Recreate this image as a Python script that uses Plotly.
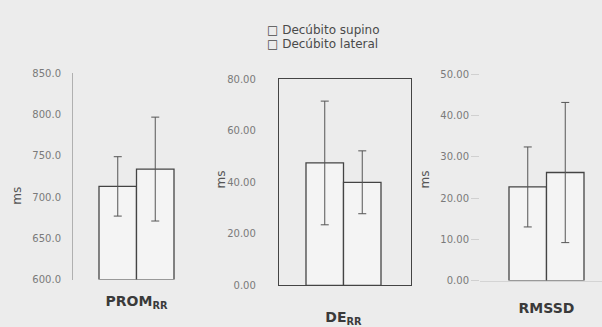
import plotly.graph_objects as go

# Series and categories
series_names = ["Decúbito supino", "Decúbito lateral"]
categories = ["PROM<sub>RR</sub>", "DE<sub>RR</sub>", "RMSSD"]

# Means and standard deviations (ms) for each panel: [supino, lateral]
prom_mean = [713.0, 734.0]
prom_sd = [36.0, 63.0]
de_mean = [47.5, 40.0]
de_sd = [24.0, 12.2]
rmssd_mean = [22.7, 26.2]
rmssd_sd = [9.7, 17.0]

means = [prom_mean, de_mean, rmssd_mean]
sds = [prom_sd, de_sd, rmssd_sd]

y_ranges = [[600, 850], [0, 80], [0, 50]]
y_dtick = [50, 20, 10]
y_format = [".1f", ".2f", ".2f"]

W, H = 602, 327
BG = "#ececec"
BAR_FILL = "#f4f4f4"
LINE = "#444444"
TICK_COL = "#7a7a7a"
FONT = "DejaVu Sans"

# panel geometry in pixels: (left, right, y of range min, y of range max, x range)
panels = [
    (73, 200, 284, 70, [-0.508, 0.508]),
    (279, 411, 290, 76, [-0.516, 0.540]),
    (480, 602, 285, 71, [-0.532, 0.444]),
]

fig = go.Figure()

for i, (cat, m, s) in enumerate(zip(categories, means, sds)):
    ax = "" if i == 0 else str(i + 1)
    base = y_ranges[i][0] if i == 0 else None
    for j, name in enumerate(series_names):
        # bars of the first panel rise from the bottom of its axis
        height = m[j] - base if base is not None else m[j]
        fig.add_trace(go.Bar(
            x=[cat], y=[height], name=name,
            offsetgroup=str(j), base=base,
            xaxis="x" + ax, yaxis="y" + ax,
            marker=dict(color=BAR_FILL, line=dict(color=LINE, width=1.3)),
            error_y=dict(type="data", array=[s[j]], visible=True,
                         color="#555555", thickness=1, width=4),
            showlegend=False,
        ))

standoffs = [11, 19, 15]
layout = dict(
    width=W, height=H,
    margin=dict(l=0, r=0, t=0, b=0),
    paper_bgcolor=BG, plot_bgcolor="rgba(0,0,0,0)",
    barmode="group", bargap=0.4, bargroupgap=0,
    font=dict(family=FONT, color=TICK_COL),
)

for i, (l, r, ybot, ytop, xr) in enumerate(panels):
    ax = "" if i == 0 else str(i + 1)
    boxed = (i == 1)
    layout["xaxis" + ax] = dict(
        domain=[l / W, r / W], range=xr, anchor="y" + ax,
        showgrid=False, zeroline=False, fixedrange=True,
        showline=boxed or i == 2, mirror=boxed,
        linecolor=LINE if boxed else "#d4d4d4", linewidth=1.3 if boxed else 1,
        tickfont=dict(family=FONT, size=14, color="#3a3a3a", weight="bold"),
        ticklabelstandoff=standoffs[i],
    )
    layout["yaxis" + ax] = dict(
        domain=[1 - ybot / H, 1 - ytop / H], range=y_ranges[i],
        anchor="x" + ax, dtick=y_dtick[i], tick0=0,
        tickformat=y_format[i],
        showgrid=False, zeroline=False, fixedrange=True,
        showline=(i != 2), mirror=boxed,
        linecolor=LINE if boxed else "#b0b0b0",
        linewidth=1.3 if boxed else 1,
        ticks="outside" if i == 2 else "", ticklen=8, tickcolor="#d0d0d0",
        tickfont=dict(family=FONT, size=10, color=TICK_COL),
        ticklabelstandoff=[9, 20, 0][i],
    )

fig.update_layout(**layout)

annotations = []
# "ms" axis titles
for xpix, ypix in [(17, 197), (221, 180), (425, 180)]:
    annotations.append(dict(
        text="ms", x=xpix / W, y=1 - ypix / H, xref="paper", yref="paper",
        showarrow=False, textangle=-90, xanchor="center", yanchor="middle",
        font=dict(family=FONT, size=12, color="#555555"),
    ))

# legend
for k, name in enumerate(series_names):
    annotations.append(dict(
        text="□ " + name, x=265 / W, y=1 - (25 + 14.5 * k) / H,
        xref="paper", yref="paper", showarrow=False,
        xanchor="left", yanchor="middle",
        font=dict(family=FONT, size=12, color="#4a4a4a"),
    ))

fig.update_layout(annotations=annotations)

fig.write_html("out.html")
